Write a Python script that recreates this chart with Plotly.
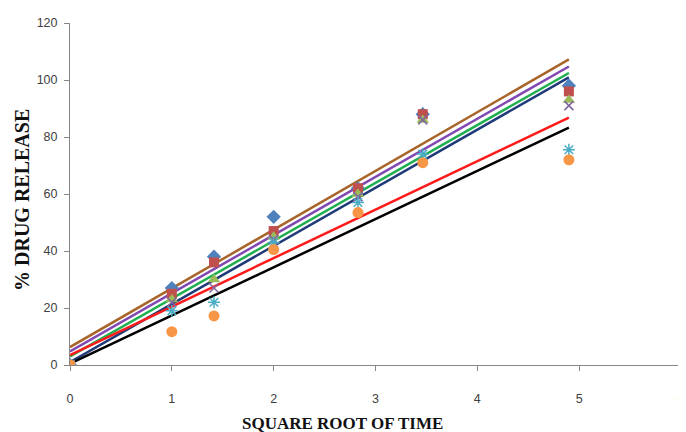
import plotly.graph_objects as go

# Square root of time (sqrt of 0,1,2,4,8,12,24 h)
sqrt_time = [0, 1, 1.414, 2, 2.828, 3.464, 4.899]

# % drug release per formulation
series_names = ["F1", "F2", "F3", "F4", "F5", "F6"]
release_f1 = [0, 27, 38, 52, 62, 88, 98]
release_f2 = [0, 25, 36, 47, 62, 88, 96]
release_f3 = [0, 23, 30, 45, 60, 86, 93]
release_f4 = [0, 22, 27, 44, 59, 86, 91]
release_f5 = [0, 19, 22, 43, 57, 74, 75.5]
release_f6 = [0, 11.7, 17.2, 40.5, 53.5, 71, 72]

# Linear trendlines (intercept, slope) as shown on the chart
trend_intercepts = [6.3, 4.8, 3.0, 1.0, 3.5, 0.5]
trend_slopes = [20.6, 20.4, 20.3, 20.4, 17.0, 16.9]
trend_x_range = [0, 4.899]

# x ticks and y ticks
x_ticks = [0, 1, 2, 3, 4, 5, 6]
y_ticks = [0, 20, 40, 60, 80, 100, 120]

x_title = "SQUARE ROOT OF TIME"
y_title = "% DRUG RELEASE"

release_all = [release_f1, release_f2, release_f3, release_f4, release_f5, release_f6]
marker_colors = ["#4F81BD", "#C0504D", "#9BBB59", "#8064A2", "#4BACC6", "#F79646"]
marker_symbols = ["diamond", "square", "triangle-up", "x-thin-open", "asterisk-open", "circle"]
marker_sizes = [11, 10, 11, 9, 10, 11]
trend_colors = ["#A8652A", "#8048B0", "#1FAF50", "#1F3A78", "#FF1A1A", "#000000"]

fig = go.Figure()

for b, m, c in zip(trend_intercepts, trend_slopes, trend_colors):
    fig.add_trace(go.Scatter(
        x=trend_x_range,
        y=[b + m * trend_x_range[0], b + m * trend_x_range[1]],
        mode="lines",
        line=dict(color=c, width=2.5),
        showlegend=False,
        hoverinfo="skip",
    ))

for name, vals, col, sym, sz in zip(series_names, release_all, marker_colors, marker_symbols, marker_sizes):
    open_sym = sym.endswith("open")
    fig.add_trace(go.Scatter(
        x=sqrt_time, y=vals, mode="markers", name=name,
        marker=dict(symbol=sym, size=sz, color=col,
                    line=dict(color=col, width=1.5 if open_sym else 0)),
        showlegend=False,
    ))

axis_font = dict(family="Liberation Sans, Arial", size=12.5, color="#404040")

# the page body adds an 8px offset, so the figure is 8px smaller
fig.update_layout(
    width=678, height=424,
    margin=dict(l=62, r=5, t=15, b=67),
    plot_bgcolor="white", paper_bgcolor="white",
    xaxis=dict(
        range=[0, 6], tickvals=x_ticks, showgrid=False, zeroline=False,
        showline=True, linecolor="#868686", linewidth=1,
        ticks="outside", ticklen=5, tickcolor="#868686",
        tickfont=axis_font, automargin=False, ticklabelstandoff=17,
        ticklabeloverflow="allow",
    ),
    yaxis=dict(
        range=[0, 120], tickvals=y_ticks, showgrid=False, zeroline=False,
        showline=True, linecolor="#868686", linewidth=1,
        ticks="outside", ticklen=5, tickcolor="#868686",
        tickfont=axis_font, automargin=False, ticklabelstandoff=4,
    ),
    annotations=[
        dict(text="<b>" + x_title + "</b>", xref="paper", yref="paper",
             x=(342 - 70) / 611, y=-(423 - 365) / 342, xanchor="center", yanchor="middle",
             showarrow=False,
             font=dict(family="Liberation Serif, Times New Roman", size=17, color="#111111")),
        dict(text="<b>" + y_title + "</b>", xref="paper", yref="paper",
             x=-(70 - 22) / 611, y=(365 - 200) / 342, xanchor="center", yanchor="middle",
             textangle=-90, showarrow=False,
             font=dict(family="Liberation Serif, Times New Roman", size=20, color="#111111")),
    ],
)

fig.write_html("out.html")
